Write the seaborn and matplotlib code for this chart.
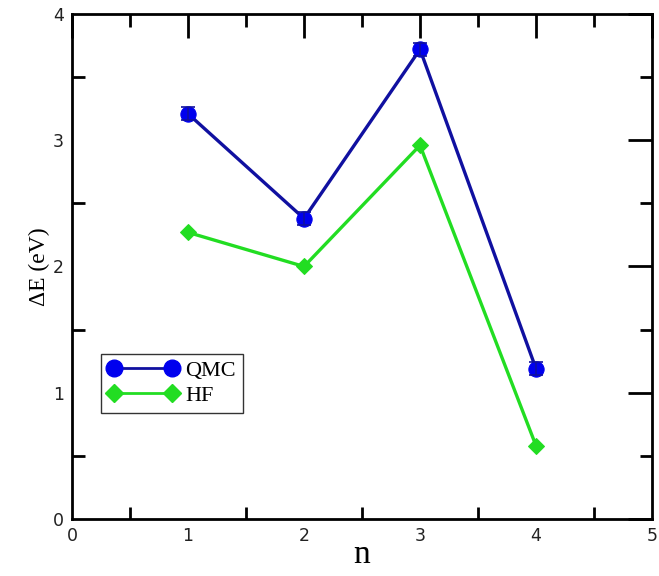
import numpy as np
import pandas as pd
import matplotlib
matplotlib.use("Agg")
import matplotlib.pyplot as plt
from matplotlib.lines import Line2D
from matplotlib.ticker import MultipleLocator
import seaborn as sns

n_vals = [1, 2, 3, 4]
qmc = [3.21, 2.38, 3.72, 1.19]
qmc_err = [0.05, 0.05, 0.05, 0.05]
hf = [2.27, 2.00, 2.96, 0.58]

sns.set_theme(style="white")
plt.rcParams['font.family'] = ['DejaVu Sans']
plt.rcParams['text.color'] = 'black'
plt.rcParams['axes.labelcolor'] = 'black'

fig = plt.figure(figsize=(6.59, 5.76), dpi=100)
ax = fig.add_axes([0.1093, 0.099, 0.8801, 0.8767])

df = pd.DataFrame({"n": n_vals * 2, "dE": qmc + hf,
                   "method": ["QMC"] * 4 + ["HF"] * 4})

line_blue = "#1010a0"
mark_blue = "#0000ee"
green = "#22dd22"

sns.lineplot(data=df[df.method == "QMC"], x="n", y="dE", ax=ax, color=line_blue,
             lw=2.4, marker="o", markersize=11, markerfacecolor=mark_blue,
             markeredgecolor=mark_blue, legend=False)
ax.errorbar(n_vals, qmc, yerr=qmc_err, fmt="none", ecolor=line_blue, elinewidth=1.2,
            capsize=5, capthick=1.2)
sns.lineplot(data=df[df.method == "HF"], x="n", y="dE", ax=ax, color=green,
             lw=2.4, marker="D", markersize=8.5, markerfacecolor=green,
             markeredgecolor=green, legend=False)

ax.set_xlim(0, 5)
ax.set_ylim(0, 4)
ax.xaxis.set_major_locator(MultipleLocator(1))
ax.xaxis.set_minor_locator(MultipleLocator(0.5))
ax.yaxis.set_major_locator(MultipleLocator(1))
ax.yaxis.set_minor_locator(MultipleLocator(0.5))
ax.tick_params(which="both", direction="in", top=True, right=True, colors="black",
               labelcolor="#222222", labelsize=12.5, width=2, pad=6)
ax.tick_params(which="major", length=17)
ax.tick_params(which="minor", length=9, bottom=True, left=True)
for s in ax.spines.values():
    s.set_color("black")
    s.set_linewidth(2)

ax.set_xlabel("n", family="Liberation Serif", fontsize=24, labelpad=-4, color="black")
ax.set_ylabel("ΔE (eV)", family="Liberation Serif", fontsize=17, labelpad=2, color="black")

handles = [
    Line2D([], [], color=line_blue, lw=2, marker="o", markersize=12,
           markerfacecolor=mark_blue, markeredgecolor=mark_blue, label="QMC"),
    Line2D([], [], color=green, lw=2, marker="D", markersize=9.5,
           markerfacecolor=green, markeredgecolor=green, label="HF"),
]
leg = ax.legend(handles=handles, loc="lower left", bbox_to_anchor=(0.05, 0.21),
                numpoints=2, prop={"family": "Liberation Serif", "size": 16},
                frameon=True, fancybox=False, edgecolor="black", handlelength=3.2,
                handletextpad=0.3, borderpad=0.3, labelspacing=0.2, borderaxespad=0)
leg.get_frame().set_linewidth(1.0)
for t in leg.get_texts():
    t.set_color("black")

fig.savefig("out.png", dpi=100)
